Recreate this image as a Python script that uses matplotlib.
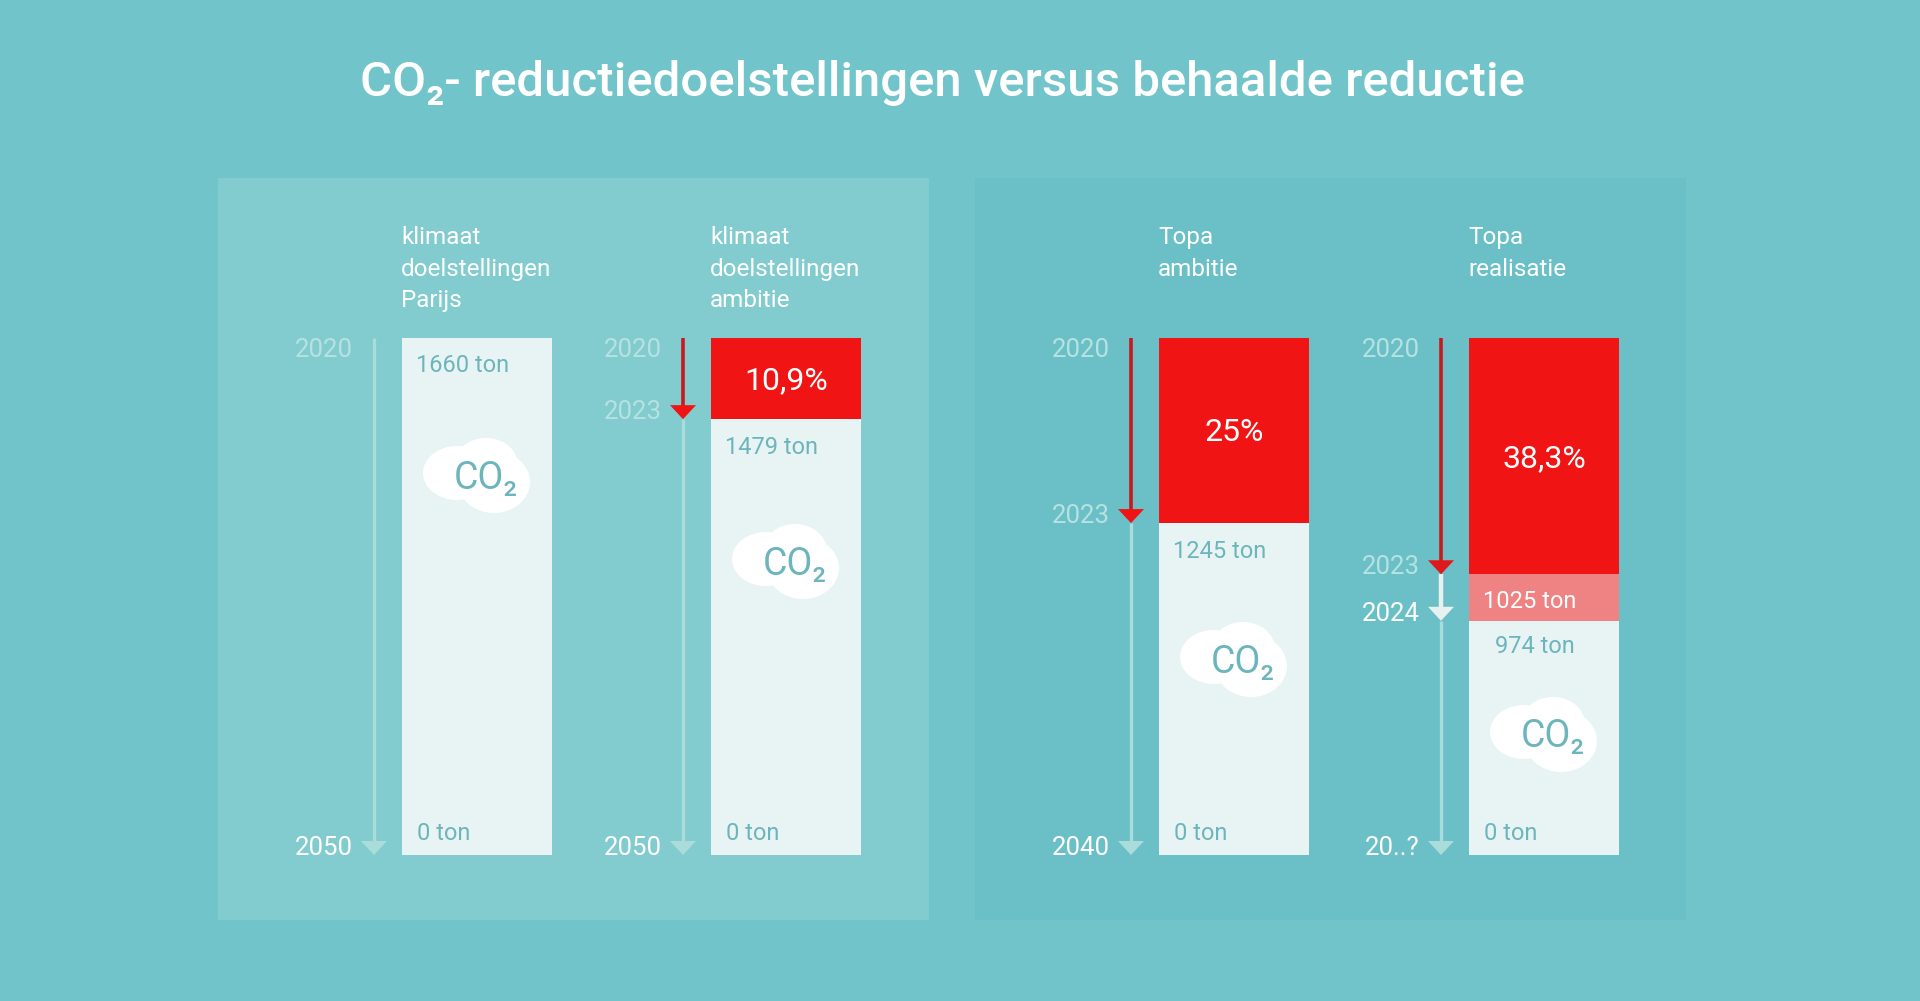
# CO2 reduction targets versus achieved reduction

import matplotlib
matplotlib.use('Agg')
import matplotlib.pyplot as plt
from matplotlib.patches import Ellipse, Polygon, Rectangle

plt.rcParams['font.family'] = ['Roboto', 'DejaVu Sans']

title = 'CO\u2082- reductiedoelstellingen versus behaalde reductie'

column_titles = ['klimaat\ndoelstellingen\nParijs', 'klimaat\ndoelstellingen\nambitie',
                 'Topa\nambitie', 'Topa\nrealisatie']
start_years = ['2020', '2020', '2020', '2020']
mid_years = ['', '2023', '2023', '2023']
end_years = ['2050', '2050', '2040', '20..?']

# share of the bar height (the bars are not to scale)
red_share = [0, 15.7, 35.8, 45.7]
pink_share = [0, 0, 0, 9.0]
red_labels = ['', '10,9%', '25%', '38,3%']
start_tons = ['1660 ton', '1479 ton', '1245 ton', '974 ton']
end_tons = ['0 ton', '0 ton', '0 ton', '0 ton']

bg = '#71c4c9'
panel_light = '#82cccf'
panel_dark = '#6ac0c6'
bar_col = '#e8f4f4'
red = '#f11414'
dark_red = '#c9191d'
pink = '#ef8383'
pale = '#abdcdc'
year_pale = '#b6e2e1'
teal_text = '#6db5bc'
off_white = '#e8f0f0'

bar_left = [402, 711, 1159, 1469]
bar_w = 150
bar_top = 338
bar_h = 517
cloud_y = [475, 561, 659, 734]

fig = plt.figure(figsize=(19.2, 10.01), dpi=100, facecolor=bg)
ax = fig.add_axes([0, 0, 1, 1])
ax.set_xlim(0, 1920)
ax.set_ylim(1001, 0)
ax.axis('off')


def share_y(share):
    return bar_top + bar_h * share / 100


def head(x, tip, col):
    ax.add_patch(Polygon([(x - 13, tip - 14), (x + 13, tip - 14), (x, tip)], color=col, lw=0, zorder=4))


def cloud(x0, cy):
    for dx, dy, rx, ry in [(55, -2, 34, 27), (84, -10, 32, 27), (92, 7, 36, 31)]:
        ax.add_patch(Ellipse((x0 + dx, cy + dy), 2 * rx, 2 * ry, color='white', lw=0, zorder=3))
    ax.text(x0 + 84, cy + 3, 'CO\u2082', color=teal_text, fontsize=27, ha='center', va='center', zorder=5)


ax.add_patch(Rectangle((218, 178), 711, 742, color=panel_light, lw=0))
ax.add_patch(Rectangle((975, 178), 711, 742, color=panel_dark, lw=0))

ax.text(942, 83, title, color='white', fontsize=35.4, ha='center', va='center', weight='medium')

for i, x0 in enumerate(bar_left):
    red_end = share_y(red_share[i])
    pink_end = share_y(red_share[i] + pink_share[i])
    axis_x = x0 - 28
    label_x = x0 - 49

    ax.text(x0 - 1, 226, column_titles[i], color='white', fontsize=17.5, ha='left', va='top', linespacing=1.48)

    # bar segments
    ax.bar(x0, bar_h, bar_w, bottom=bar_top, align='edge', color=bar_col, zorder=2)
    if red_share[i] > 0:
        ax.bar(x0, red_end - bar_top, bar_w, bottom=bar_top, align='edge', color=red, zorder=2)
        ax.text(x0 + bar_w / 2, (bar_top + red_end) / 2 + 2, red_labels[i], color='white', fontsize=23,
                ha='center', va='center', zorder=5)
    if pink_share[i] > 0:
        ax.bar(x0, pink_end - red_end, bar_w, bottom=red_end, align='edge', color=pink, zorder=2)
        ax.text(x0 + 14, red_end + 27, '1025 ton', color='white', fontsize=17, ha='left', va='center', zorder=5)

    # time arrows next to the bar
    ax.plot([axis_x, axis_x], [pink_end, 842], color=pale, lw=2.4, zorder=2, solid_capstyle='butt')
    head(axis_x, 855, pale)
    if red_share[i] > 0:
        ax.plot([axis_x, axis_x], [bar_top, red_end - 10], color=dark_red, lw=2.6, zorder=3, solid_capstyle='butt')
        head(axis_x, red_end, red if i < 3 else '#e0181c')
    if pink_share[i] > 0:
        ax.plot([axis_x, axis_x], [red_end, pink_end - 10], color=off_white, lw=3.2, zorder=2, solid_capstyle='butt')
        head(axis_x, pink_end, off_white)
        ax.text(label_x, pink_end - 7, '2024', color='white', fontsize=18.5, ha='right', va='center')

    # year labels
    ax.text(label_x, 350, start_years[i], color=year_pale, fontsize=18.5, ha='right', va='center')
    if mid_years[i]:
        ax.text(label_x, red_end - 7, mid_years[i], color=year_pale, fontsize=18.5, ha='right', va='center')
    ax.text(label_x, 848, end_years[i], color='white', fontsize=18.5, ha='right', va='center')

    # ton labels
    ton_y = pink_end + 26 if pink_share[i] > 0 else red_end + 27 + (0 if i == 0 else 1)
    ton_x = x0 + 26 if pink_share[i] > 0 else x0 + 14
    ax.text(ton_x, ton_y, start_tons[i], color=teal_text, fontsize=17, ha='left', va='center', zorder=5)
    ax.text(x0 + 15, 833, end_tons[i], color=teal_text, fontsize=17, ha='left', va='center', zorder=5)

    cloud(x0, cloud_y[i])

fig.savefig('out.png', dpi=100, facecolor=bg)
